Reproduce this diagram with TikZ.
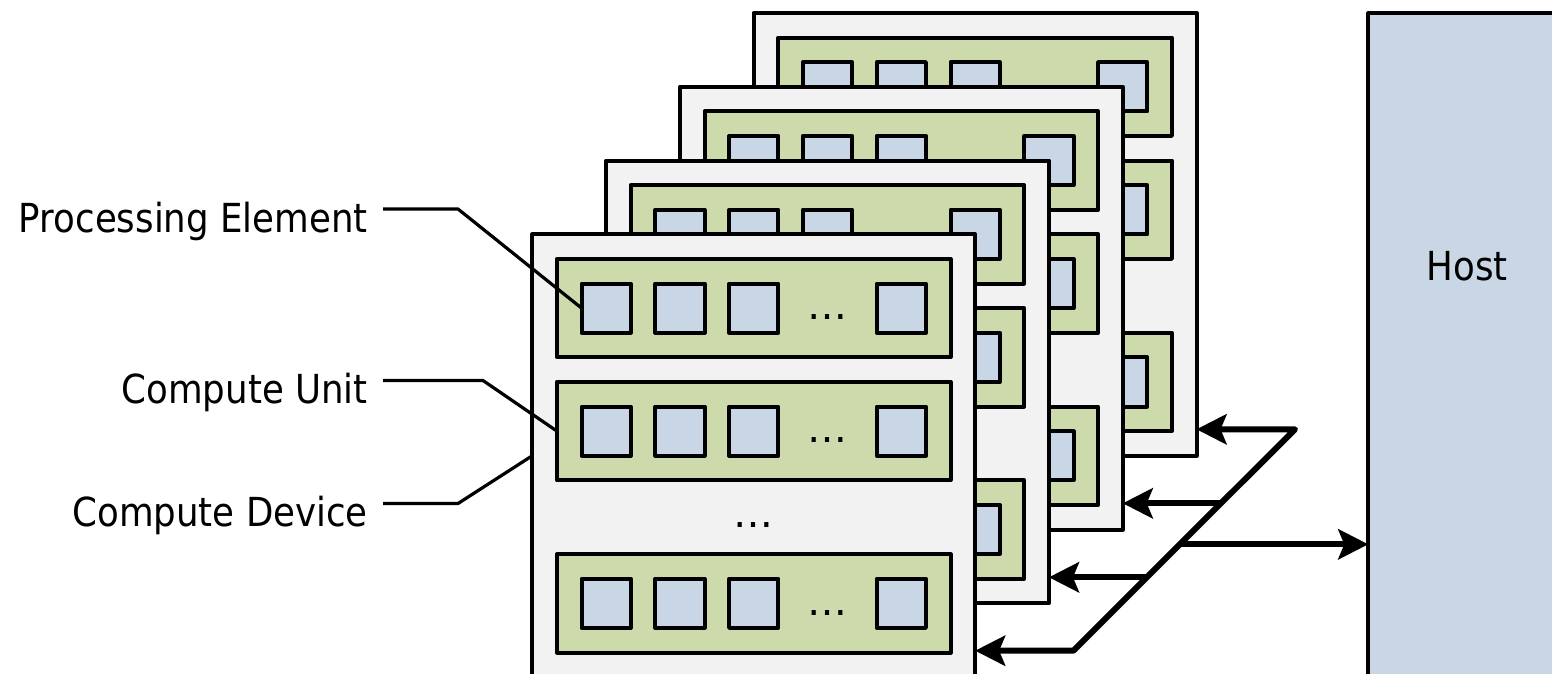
\documentclass[tikz,border=0pt]{standalone}
\usepackage{fontspec}
\setmainfont{DejaVu Sans}[FakeStretch=0.89]
\newfontfamily\dotsfont{DejaVu Sans}
\usetikzlibrary{arrows.meta}
\definecolor{devfill}{RGB}{242,242,242}
\definecolor{cufill}{RGB}{205,219,172}
\definecolor{pefill}{RGB}{200,214,229}
\begin{document}
\begin{tikzpicture}[x=1pt,y=-1pt,line join=round,
  box/.style={draw=black,line width=4pt,rectangle,inner sep=0pt,outer sep=0pt,anchor=north west},
  devbox/.style={box,fill=devfill,minimum width=442.8pt,minimum height=442.8pt},
  cubox/.style={box,fill=cufill,minimum width=393.6pt,minimum height=98.4pt},
  pebox/.style={box,fill=pefill,minimum width=49.2pt,minimum height=49.2pt},
  hostbox/.style={box,fill=pefill,minimum width=260pt,minimum height=700pt},
  lbl/.style={font=\fontsize{40}{48}\selectfont,inner sep=0pt,anchor=base east},
  hosttext/.style={font=\fontsize{40}{48}\selectfont,inner sep=0pt,anchor=base},
  ell/.style={font=\dotsfont\fontsize{40}{48}\selectfont,inner sep=0pt,anchor=base},
  leader/.style={draw=black,line width=3.2pt},
  link/.style={draw=black,line width=6pt},
  tip/.tip={Stealth[length=30pt,width=30pt,inset=6pt]}]
\useasboundingbox (0,0) rectangle (1552,673);
\clip (0,0) rectangle (1552,673);

% host
\node[hostbox] (host) at (1368.3,13.3) {};
\node[hosttext] (hostlbl) at (1467,280) {Host};

% compute devices, back to front; each holds three compute units of PEs
\foreach \k in {3,2,1,0} {
  \pgfmathsetmacro\ox{532.3+73.8*\k}
  \pgfmathsetmacro\oy{234.3-73.8*\k}
  \node[devbox] (dev\k) at (\ox,\oy) {};
  \ifnum\k=0
    \node[ell] (devdots) at ({\ox+9*24.6},{\oy+11.9*24.6}) {…};
  \fi
  \foreach \j/\r in {1/1,2/6,3/13} {
    \pgfmathsetmacro\cx{\ox+24.6}
    \pgfmathsetmacro\cy{\oy+\r*24.6}
    \node[cubox] (cu-\k-\j) at (\cx,\cy) {};
    \foreach \i/\p in {1/1,2/4,3/7,4/13} {
      \node[pebox] (pe-\k-\j-\i) at ({\cx+\p*24.6},{\cy+24.6}) {};
    }
    % the dots of the devices behind are covered by the front one
    \ifnum\k=0
      \node[ell] (cudots-\j) at ({\cx+11*24.6},{\cy+2.48*24.6}) {…};
    \fi
  }
}

% labels with leader lines
\node[lbl] (pelbl) at (368,232) {Processing Element};
\node[lbl] (culbl) at (368,403.5) {Compute Unit};
\node[lbl] (cdlbl) at (368,526.5) {Compute Device};
\draw[leader] ([xshift=15pt,yshift=23pt]pelbl.base east) -- ++(75,0) -- (pe-0-1-1.west);
\draw[leader] ([xshift=15pt,yshift=23pt]culbl.base east) -- ++(100,0) -- (cu-0-2.west);
\draw[leader] ([xshift=15pt,yshift=23pt]cdlbl.base east) -- ++(75,0) -- (dev0.west);

% interconnect between host and devices
\coordinate (jtop) at (1295,429.3);
\coordinate (jbot) at (1073.3,650.7);
\coordinate (b2) at (1221,503.3);
\coordinate (bh) at (1180,544.3);
\coordinate (b1) at (1147,577.3);
\draw[link,tip-tip] (dev3.east |- jtop) -- (jtop) -- (jbot) -- (dev0.east |- jbot);
\draw[link,-tip] (b2) -- (dev2.east |- b2);
\draw[link,-tip] (b1) -- (dev1.east |- b1);
\draw[link,-tip] (bh) -- (host.west |- bh);
\end{tikzpicture}
\end{document}
